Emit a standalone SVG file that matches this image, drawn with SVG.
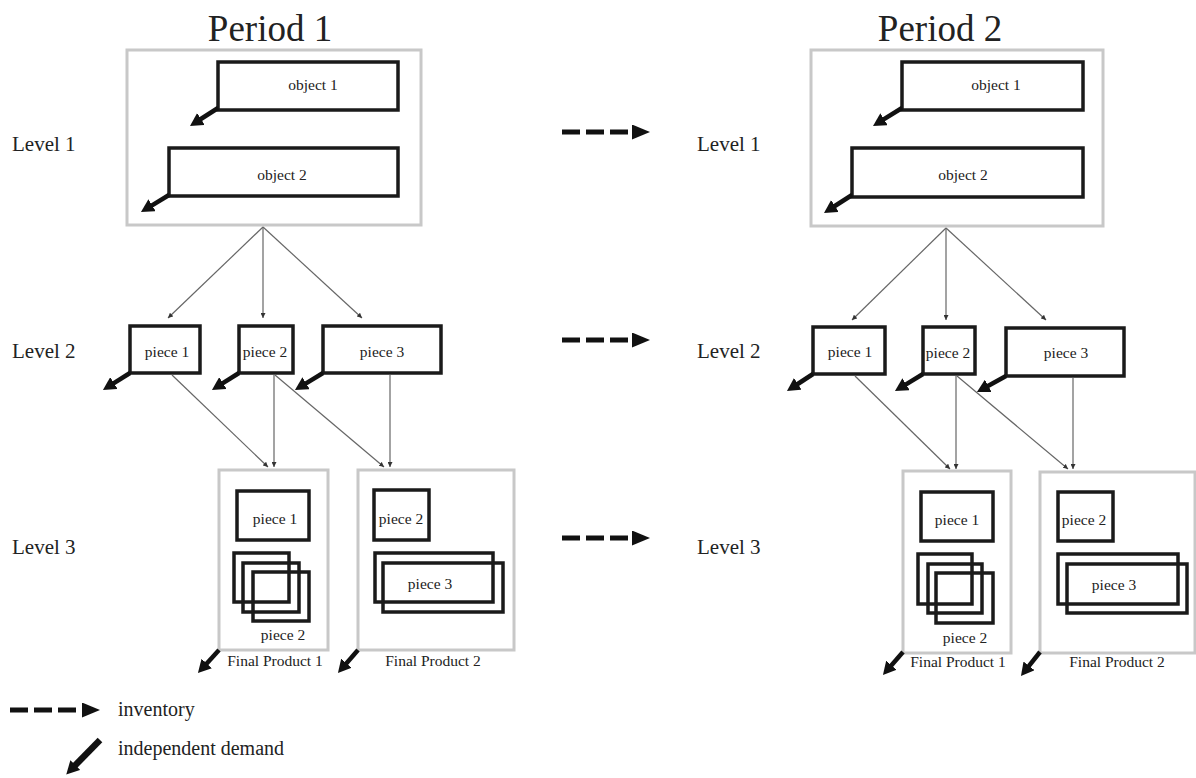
<svg xmlns="http://www.w3.org/2000/svg" width="1196" height="778" viewBox="0 0 1196 778">
  <style>
    text { font-family: "Liberation Serif", "DejaVu Serif", serif; fill: #222; }
    .title { font-size: 37px; text-anchor: middle; }
    .level { font-size: 21px; }
    .lbl { font-size: 15.5px; text-anchor: middle; }
    .legend { font-size: 20px; }
    .group { fill: #fff; stroke: #c8c8c8; stroke-width: 3; }
    .item { fill: none; stroke: #1a1a1a; stroke-width: 3.5; }
    .link { stroke: #666; stroke-width: 1.2; fill: none; marker-end: url(#small); }
    .demand { stroke: #111; stroke-width: 4.5; fill: none; marker-end: url(#thick); }
    .inv { stroke: #111; stroke-width: 5; stroke-dasharray: 18 6; fill: none; marker-end: url(#inv); }
  </style>
  <defs>
    <marker id="small" viewBox="0 0 10 10" refX="10" refY="5" markerWidth="5" markerHeight="5" markerUnits="userSpaceOnUse" orient="auto">
      <path d="M0,0 L10,5 L0,10 z" fill="#333"/>
    </marker>
    <marker id="thick" viewBox="0 0 10 10" refX="1.5" refY="5" markerWidth="13" markerHeight="14" markerUnits="userSpaceOnUse" orient="auto" preserveAspectRatio="none">
      <path d="M0,0 L10,5 L0,10 z" fill="#111"/>
    </marker>
    <marker id="inv" viewBox="0 0 10 10" refX="0" refY="5" markerWidth="18" markerHeight="15" markerUnits="userSpaceOnUse" orient="auto" preserveAspectRatio="none">
      <path d="M0,0 L10,5 L0,10 z" fill="#111"/>
    </marker>
  </defs>

  <!-- headings -->
  <text class="title" x="270" y="41">Period 1</text>
  <text class="title" x="940" y="41">Period 2</text>

  <text class="level" x="12" y="151">Level 1</text>
  <text class="level" x="12" y="358">Level 2</text>
  <text class="level" x="12" y="554">Level 3</text>
  <text class="level" x="697" y="151">Level 1</text>
  <text class="level" x="697" y="358">Level 2</text>
  <text class="level" x="697" y="554">Level 3</text>

  <!-- ===== Period 1 ===== -->
  <g id="p1-level1">
    <rect class="group" x="127" y="50" width="294" height="175"/>
    <g id="p1-object1">
      <rect class="item" x="218" y="62" width="180" height="48"/>
      <text class="lbl" x="313" y="90">object 1</text>
    </g>
    <g id="p1-object2">
      <rect class="item" x="169" y="148" width="229" height="48"/>
      <text class="lbl" x="282" y="180">object 2</text>
    </g>
  </g>
  <g id="p1-l2-piece1">
    <rect class="item" x="130" y="326" width="70" height="47"/>
    <text class="lbl" x="167" y="357">piece 1</text>
  </g>
  <g id="p1-l2-piece2">
    <rect class="item" x="239" y="326" width="54" height="47"/>
    <text class="lbl" x="265" y="357">piece 2</text>
  </g>
  <g id="p1-l2-piece3">
    <rect class="item" x="323" y="326" width="118" height="47"/>
    <text class="lbl" x="382" y="357">piece 3</text>
  </g>
  <g id="p1-final1">
    <rect class="group" x="219" y="470" width="109" height="180"/>
    <rect class="item" x="237" y="491" width="72" height="49"/>
    <text class="lbl" x="275" y="524">piece 1</text>
    <rect class="item" x="234" y="553" width="55" height="49"/>
    <rect class="item" x="243" y="563" width="56" height="49"/>
    <rect class="item" x="253" y="572" width="56" height="49"/>
    <text class="lbl" x="283" y="640">piece 2</text>
    <text class="lbl" x="275" y="666">Final Product 1</text>
  </g>
  <g id="p1-final2">
    <rect class="group" x="358" y="470" width="156" height="180"/>
    <rect class="item" x="374" y="490" width="55" height="50"/>
    <text class="lbl" x="401" y="524">piece 2</text>
    <rect class="item" x="375" y="553" width="118" height="49"/>
    <rect class="item" x="383" y="563" width="120" height="49"/>
    <text class="lbl" x="430" y="589">piece 3</text>
    <text class="lbl" x="433" y="666">Final Product 2</text>
  </g>

  <!-- ===== Period 2 ===== -->
  <g id="p2-level1">
    <rect class="group" x="811" y="50" width="292" height="176"/>
    <g id="p2-object1">
      <rect class="item" x="902" y="62" width="181" height="48"/>
      <text class="lbl" x="996" y="90">object 1</text>
    </g>
    <g id="p2-object2">
      <rect class="item" x="852" y="148" width="231" height="49"/>
      <text class="lbl" x="963" y="180">object 2</text>
    </g>
  </g>
  <g id="p2-l2-piece1">
    <rect class="item" x="813" y="327" width="72" height="47"/>
    <text class="lbl" x="850" y="357">piece 1</text>
  </g>
  <g id="p2-l2-piece2">
    <rect class="item" x="923" y="327" width="52" height="47"/>
    <text class="lbl" x="948" y="358">piece 2</text>
  </g>
  <g id="p2-l2-piece3">
    <rect class="item" x="1006" y="328" width="118" height="48"/>
    <text class="lbl" x="1066" y="358">piece 3</text>
  </g>
  <g id="p2-final1">
    <rect class="group" x="903" y="471" width="108" height="182"/>
    <rect class="item" x="921" y="492" width="72" height="49"/>
    <text class="lbl" x="957" y="525">piece 1</text>
    <rect class="item" x="918" y="554" width="54" height="50"/>
    <rect class="item" x="928" y="564" width="54" height="49"/>
    <rect class="item" x="936" y="573" width="57" height="50"/>
    <text class="lbl" x="965" y="643">piece 2</text>
    <text class="lbl" x="958" y="667">Final Product 1</text>
  </g>
  <g id="p2-final2">
    <rect class="group" x="1040" y="472" width="155" height="181"/>
    <rect class="item" x="1058" y="492" width="55" height="49"/>
    <text class="lbl" x="1084" y="525">piece 2</text>
    <rect class="item" x="1058" y="554" width="120" height="50"/>
    <rect class="item" x="1067" y="564" width="120" height="49"/>
    <text class="lbl" x="1114" y="590">piece 3</text>
    <text class="lbl" x="1117" y="667">Final Product 2</text>
  </g>

  <!-- connectors -->
  <g id="connectors">
    <!-- bill of materials links, period 1 -->
    <line class="link" x1="263" y1="227" x2="168" y2="318"/>
    <line class="link" x1="263" y1="227" x2="263" y2="318"/>
    <line class="link" x1="263" y1="227" x2="362" y2="318"/>
    <line class="link" x1="172" y1="375" x2="268" y2="467"/>
    <line class="link" x1="274" y1="375" x2="274" y2="467"/>
    <line class="link" x1="275" y1="375" x2="384" y2="467"/>
    <line class="link" x1="390" y1="375" x2="390" y2="467"/>
    <!-- bill of materials links, period 2 -->
    <line class="link" x1="946" y1="228" x2="852" y2="320"/>
    <line class="link" x1="946" y1="228" x2="946" y2="320"/>
    <line class="link" x1="946" y1="228" x2="1046" y2="320"/>
    <line class="link" x1="855" y1="376" x2="950" y2="469"/>
    <line class="link" x1="956" y1="376" x2="956" y2="469"/>
    <line class="link" x1="957" y1="376" x2="1068" y2="469"/>
    <line class="link" x1="1073" y1="378" x2="1073" y2="469"/>

    <!-- independent demand, period 1 -->
    <line class="demand" x1="218" y1="108" x2="199.3" y2="120"/>
    <line class="demand" x1="169" y1="195" x2="150.4" y2="206.3"/>
    <line class="demand" x1="130" y1="373" x2="112.3" y2="384.1"/>
    <line class="demand" x1="239" y1="373" x2="221.3" y2="384.1"/>
    <line class="demand" x1="323" y1="373" x2="304.4" y2="384.3"/>
    <line class="demand" x1="219" y1="650" x2="205.4" y2="664.9"/>
    <line class="demand" x1="358" y1="650" x2="345.2" y2="664.7"/>
    <!-- independent demand, period 2 -->
    <line class="demand" x1="902" y1="108" x2="882.4" y2="120.2"/>
    <line class="demand" x1="852" y1="195" x2="833.3" y2="207"/>
    <line class="demand" x1="813" y1="374" x2="796.2" y2="385"/>
    <line class="demand" x1="923" y1="374" x2="904.4" y2="385.3"/>
    <line class="demand" x1="1006" y1="376" x2="986.6" y2="386.7"/>
    <line class="demand" x1="903" y1="652" x2="890.2" y2="666.7"/>
    <line class="demand" x1="1040" y1="652" x2="1027.8" y2="667.4"/>

    <!-- inventory carried between periods -->
    <line class="inv" x1="562" y1="132" x2="632" y2="132"/>
    <line class="inv" x1="562" y1="340" x2="632" y2="340"/>
    <line class="inv" x1="562" y1="538" x2="632" y2="538"/>
  </g>

  <!-- legend -->
  <g id="legend">
    <line class="inv" x1="10" y1="710" x2="82" y2="710"/>
    <text class="legend" x="118" y="716">inventory</text>
    <line class="demand" x1="100" y1="740" x2="74" y2="766.5" style="stroke-width:6.5"/>
    <text class="legend" x="118" y="755">independent demand</text>
  </g>
</svg>
